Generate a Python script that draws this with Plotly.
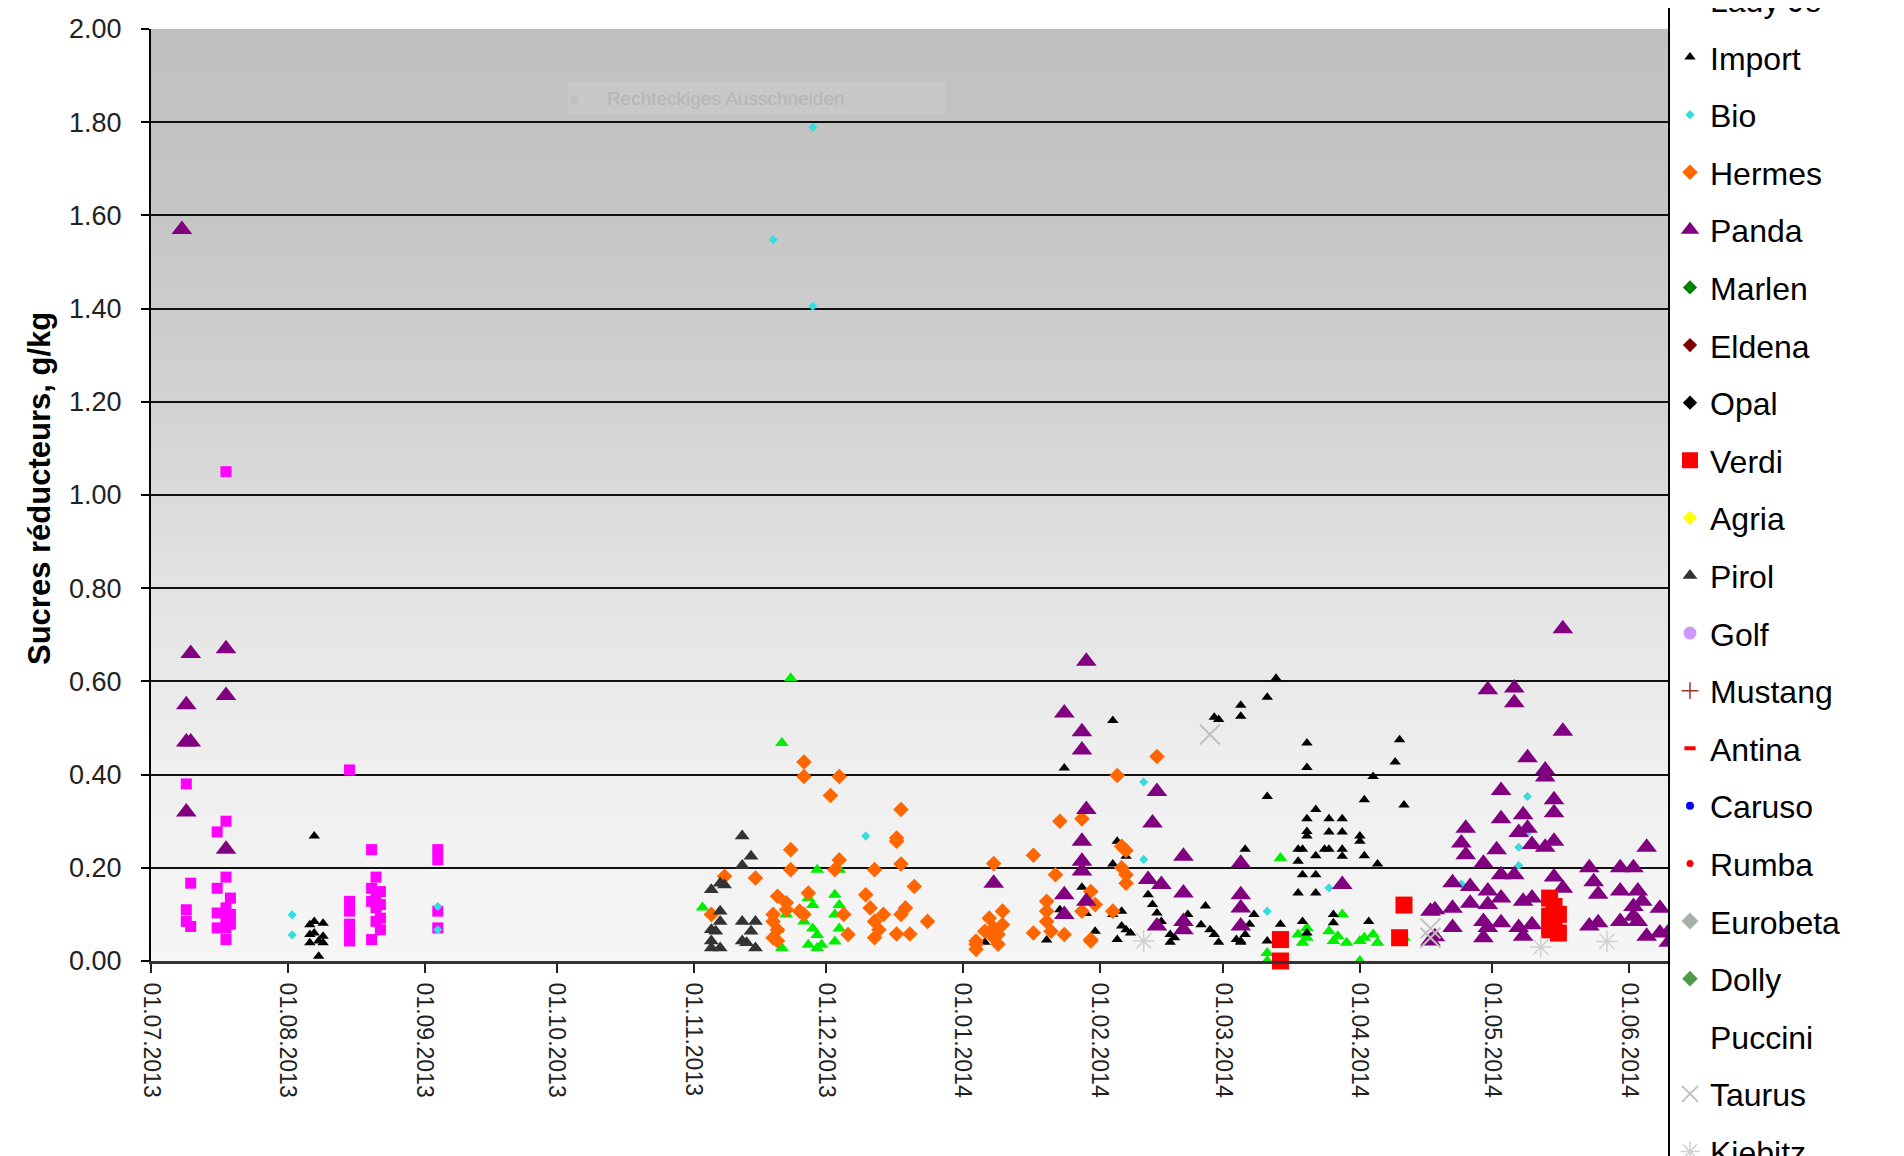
import plotly.graph_objects as go

# ---------------- data ----------------
magenta_dates = ["2013-07-09"] * 3 + ["2013-07-10"] * 2 + ["2013-07-16"] * 4 + ["2013-07-18"] * 7 + \
    ["2013-07-19"] * 3 + ["2013-08-15"] * 6 + ["2013-08-20"] * 4 + ["2013-08-21"] * 4 + \
    ["2013-08-22"] * 4 + ["2013-09-04"] * 4
magenta_vals = [0.38, 0.11, 0.085, 0.167, 0.074, 0.277, 0.156, 0.103, 0.071,
                1.05, 0.30, 0.18, 0.114, 0.093, 0.071, 0.046, 0.135, 0.10, 0.079,
                0.41, 0.128, 0.107, 0.079, 0.061, 0.043, 0.239, 0.156, 0.128, 0.046,
                0.18, 0.142, 0.114, 0.085, 0.149, 0.121, 0.092, 0.067,
                0.239, 0.217, 0.107, 0.071]

green_dates = ["2013-11-03", "2013-11-20", "2013-11-21", "2013-11-21", "2013-11-22", "2013-11-23",
               "2013-11-26", "2013-11-27", "2013-11-27", "2013-11-28", "2013-11-28",
               "2013-11-29", "2013-11-29", "2013-11-29", "2013-11-30",
               "2013-12-03", "2013-12-03", "2013-12-03", "2013-12-04", "2013-12-04", "2013-12-04",
               "2014-03-11", "2014-03-11", "2014-03-14", "2014-03-18", "2014-03-19", "2014-03-20",
               "2014-03-20", "2014-03-25", "2014-03-26", "2014-03-27", "2014-03-28", "2014-03-29",
               "2014-04-01", "2014-04-01", "2014-04-02", "2014-04-04", "2014-04-05", "2014-04-11"]
green_vals = [0.115, 0.067, 0.468, 0.028, 0.10, 0.607, 0.085, 0.135, 0.035, 0.07, 0.12,
              0.196, 0.056, 0.028, 0.035, 0.142, 0.10, 0.042, 0.196, 0.12, 0.07,
              0.017, 0.0, 0.221, 0.057, 0.039, 0.071, 0.05, 0.064, 0.043, 0.053, 0.10, 0.039,
              0.0, 0.043, 0.05, 0.057, 0.039, 0.05]

import_dates = ["2013-08-06"] * 3 + ["2013-08-07"] * 3 + ["2013-08-08"] * 2 + ["2013-08-09"] * 3 + \
    ["2014-01-06", "2014-01-10", "2014-01-20", "2014-01-23", "2014-01-24", "2014-01-28",
     "2014-01-29", "2014-01-31"] + ["2014-02-04"] * 3 + ["2014-02-05"] * 2 + ["2014-02-06"] * 2 + \
    ["2014-02-07"] * 2 + ["2014-02-08", "2014-02-12", "2014-02-13", "2014-02-14", "2014-02-15"] + \
    ["2014-02-17"] * 2 + ["2014-02-18", "2014-02-21", "2014-02-24", "2014-02-25", "2014-02-26"] + \
    ["2014-02-27"] * 2 + ["2014-02-28"] * 2 + ["2014-03-04"] + ["2014-03-05"] * 4 + \
    ["2014-03-06"] * 2 + ["2014-03-07", "2014-03-08"] + ["2014-03-11"] * 3 + \
    ["2014-03-13", "2014-03-14"] + ["2014-03-18"] * 3 + ["2014-03-19"] * 3 + ["2014-03-20"] * 6 + \
    ["2014-03-22"] * 4 + ["2014-03-24"] + ["2014-03-25"] * 3 + ["2014-03-26"] * 2 + \
    ["2014-03-28"] * 4 + ["2014-04-01"] * 2 + ["2014-04-02"] * 2 + \
    ["2014-04-03", "2014-04-04", "2014-04-05", "2014-04-09", "2014-04-10", "2014-04-11"]
import_vals = [0.078, 0.057, 0.039, 0.268, 0.085, 0.06, 0.043, 0.01, 0.081, 0.053, 0.039,
               0.04, 0.081, 0.045, 0.11, 0.414, 0.158, 0.102, 0.064,
               0.516, 0.208, 0.10, 0.257, 0.046, 0.075, 0.107, 0.225, 0.067,
               0.06, 0.142, 0.121, 0.103, 0.085, 0.057, 0.04, 0.05, 0.10, 0.078, 0.118, 0.067,
               0.523, 0.057, 0.518, 0.04, 0.046, 0.549, 0.525, 0.04, 0.043,
               0.24, 0.057, 0.079, 0.10, 0.566, 0.043, 0.353, 0.607, 0.079,
               0.24, 0.214, 0.146, 0.24, 0.185, 0.085, 0.468, 0.415, 0.305, 0.278, 0.268, 0.06,
               0.325, 0.226, 0.185, 0.146, 0.24, 0.305, 0.277, 0.24, 0.10, 0.082,
               0.305, 0.277, 0.24, 0.225, 0.268, 0.257, 0.346, 0.226,
               0.085, 0.396, 0.208, 0.427, 0.475, 0.335]

bio_dates = ["2013-08-02", "2013-08-02", "2013-09-04", "2013-09-04", "2013-11-19",
             "2013-11-28", "2013-11-28", "2013-12-10", "2014-02-11", "2014-02-11",
             "2014-03-11", "2014-03-25", "2014-04-24", "2014-05-07", "2014-05-07",
             "2014-05-09", "2014-05-09"]
bio_vals = [0.099, 0.056, 0.117, 0.067, 1.548, 1.789, 1.405, 0.268, 0.384, 0.218,
            0.107, 0.157, 0.165, 0.244, 0.205, 0.353, 0.275]

hermes_dates = ["2013-11-05", "2013-11-08", "2013-11-15"] + ["2013-11-19"] * 3 + ["2013-11-20"] * 3 + \
    ["2013-11-22"] * 2 + ["2013-11-23"] * 2 + ["2013-11-25"] + ["2013-11-26"] * 3 + \
    ["2013-11-27", "2013-12-02", "2013-12-03"] + ["2013-12-04"] * 2 + \
    ["2013-12-05", "2013-12-06", "2013-12-10", "2013-12-11"] + ["2013-12-12"] * 3 + \
    ["2013-12-13", "2013-12-14"] + ["2013-12-17"] * 3 + ["2013-12-18"] * 3 + \
    ["2013-12-19", "2013-12-20", "2013-12-21", "2013-12-24"] + ["2014-01-04"] * 3 + \
    ["2014-01-06", "2014-01-07"] + ["2014-01-08"] * 3 + ["2014-01-09"] * 2 + ["2014-01-10"] * 2 + \
    ["2014-01-17"] * 2 + ["2014-01-20"] * 3 + ["2014-01-21", "2014-01-22", "2014-01-23", "2014-01-24"] + \
    ["2014-01-28"] * 2 + ["2014-01-30"] * 3 + ["2014-01-31", "2014-02-04", "2014-02-05"] + \
    ["2014-02-06"] * 2 + ["2014-02-07"] * 3 + ["2014-02-14"]
hermes_vals = [0.10, 0.182, 0.178, 0.10, 0.085, 0.05, 0.139, 0.067, 0.043,
               0.11, 0.125, 0.239, 0.196, 0.107, 0.427, 0.396, 0.10,
               0.146, 0.355, 0.196, 0.396, 0.217, 0.10, 0.057, 0.142, 0.114,
               0.196, 0.085, 0.05, 0.067, 0.10, 0.264, 0.257, 0.058, 0.325, 0.208, 0.10,
               0.114, 0.058, 0.16, 0.085, 0.043, 0.036, 0.025, 0.064, 0.092,
               0.209, 0.071, 0.05, 0.036, 0.057, 0.107, 0.078, 0.227, 0.06,
               0.128, 0.107, 0.085, 0.064, 0.185, 0.30, 0.057, 0.305, 0.107,
               0.149, 0.046, 0.043, 0.121, 0.107, 0.398, 0.246, 0.20, 0.237, 0.185, 0.167, 0.439]

panda_dates = ["2013-07-08"] + ["2013-07-09"] * 3 + ["2013-07-10"] * 2 + ["2013-07-18"] * 3 + \
    ["2014-01-08"] + ["2014-01-24"] * 3 + ["2014-01-28"] * 5 + ["2014-01-29"] * 3 + \
    ["2014-02-12", "2014-02-13", "2014-02-14", "2014-02-14", "2014-02-15"] + ["2014-02-20"] * 4 + \
    ["2014-03-05"] * 4 + ["2014-03-28"] + ["2014-04-17"] * 2 + ["2014-04-18"] * 2 + \
    ["2014-04-22"] * 3 + ["2014-04-24"] + ["2014-04-25"] * 2 + ["2014-04-26"] * 2 + \
    ["2014-04-29"] * 3 + ["2014-04-30"] * 4 + ["2014-05-02"] + ["2014-05-03"] * 5 + \
    ["2014-05-06"] * 3 + ["2014-05-07"] * 2 + ["2014-05-08"] * 3 + ["2014-05-09"] * 2 + \
    ["2014-05-10"] * 3 + ["2014-05-13"] * 3 + ["2014-05-15"] * 4 + ["2014-05-17"] * 3 + \
    ["2014-05-23"] * 2 + ["2014-05-24"] + ["2014-05-25"] * 2 + ["2014-05-30"] * 3 + \
    ["2014-06-02"] * 3 + ["2014-06-03"] * 2 + ["2014-06-04"] + ["2014-06-05"] * 2 + \
    ["2014-06-08"] * 2 + ["2014-06-10"] * 2
panda_vals = [1.57, 0.55, 0.47, 0.32, 0.66, 0.47, 0.67, 0.57, 0.24,
              0.167, 0.532, 0.142, 0.10, 0.492, 0.453, 0.257, 0.214, 0.193, 0.643, 0.325, 0.128,
              0.175, 0.296, 0.364, 0.075, 0.164, 0.225, 0.146, 0.085, 0.067,
              0.21, 0.142, 0.114, 0.075, 0.164, 0.107, 0.043, 0.11, 0.052,
              0.168, 0.113, 0.072, 0.253, 0.285, 0.228, 0.16, 0.124,
              0.21, 0.085, 0.05, 0.582, 0.15, 0.121, 0.072, 0.239, 0.366, 0.305, 0.185, 0.135, 0.082,
              0.586, 0.554, 0.185, 0.276, 0.072, 0.314, 0.128, 0.053, 0.436, 0.285,
              0.25, 0.135, 0.078, 0.41, 0.395, 0.244, 0.346, 0.318, 0.257, 0.18, 0.713, 0.493, 0.156,
              0.20, 0.075, 0.17, 0.143, 0.082, 0.20, 0.15, 0.085,
              0.20, 0.117, 0.096, 0.15, 0.085, 0.128, 0.244, 0.053, 0.113, 0.06, 0.063, 0.04]

verdi_dates = ["2014-03-14", "2014-03-14", "2014-04-10", "2014-04-11",
               "2014-05-14", "2014-05-14", "2014-05-14", "2014-05-15", "2014-05-15", "2014-05-16", "2014-05-16"]
verdi_vals = [0.046, 0.0, 0.05, 0.12, 0.135, 0.096, 0.067, 0.117, 0.078, 0.10, 0.06]

pirol_dates = ["2013-11-05"] * 4 + ["2013-11-06"] + ["2013-11-07"] * 4 + ["2013-11-08"] + \
    ["2013-11-12"] * 4 + ["2013-11-13"] + ["2013-11-14"] * 2 + ["2013-11-15"] * 2
pirol_vals = [0.153, 0.067, 0.043, 0.028, 0.064, 0.167, 0.107, 0.085, 0.028, 0.163,
              0.268, 0.205, 0.085, 0.043, 0.039, 0.225, 0.064, 0.085, 0.028]

taurus_dates = ["2014-02-26", "2014-04-17", "2014-04-17"]
taurus_vals = [0.486, 0.07, 0.05]

kiebitz_dates = ["2014-02-11", "2014-05-12", "2014-05-27"]
kiebitz_vals = [0.043, 0.03, 0.042]

# series that only appear in the legend (no visible points)
no_dates = [None]
no_vals = [None]

x_tick_start = "2013-07-01"
x_range = ["2013-07-01", "2014-06-10 07:00"]
y_ticks = [0.0, 0.2, 0.4, 0.6, 0.8, 1.0, 1.2, 1.4, 1.6, 1.8, 2.0]

# background gradient stops (value -> gray level)
bg_stop_vals = [0.0, 0.4, 0.8, 1.2, 1.6, 2.0]
bg_stop_gray = [246, 239, 227, 210, 197, 192]

FONT = "Liberation Sans"

fig = go.Figure()


def add(name, dates, vals, symbol, color, size, show=True, lw=0):
    fig.add_trace(go.Scatter(
        x=dates, y=vals, mode="markers", name=name,
        marker=dict(symbol=symbol, color=color, size=size, line=dict(width=lw, color=color)),
        showlegend=show, legendgroup=name if show else None, cliponaxis=False,
        hovertemplate="%{x|%d.%m.%Y}: %{y:.2f}<extra>" + name + "</extra>"))


# series without a visible legend entry (above the visible part of the legend)
add("", magenta_dates, magenta_vals, "square", "#ff00ff", 11, show=False)
add("", green_dates, green_vals, "triangle-up", "#00ee00", 12, show=False)

add("Lady Jo", no_dates, no_vals, "circle", "#d9d9d9", 8)
add("Import", import_dates, import_vals, "triangle-up", "#000000", 10)
add("Bio", bio_dates, bio_vals, "diamond", "#33dddd", 7)
add("Hermes", hermes_dates, hermes_vals, "diamond", "#ff6600", 12)
add("Panda", panda_dates, panda_vals, "triangle-up", "#800080", 18)
add("Marlen", no_dates, no_vals, "diamond", "#008000", 11)
add("Eldena", no_dates, no_vals, "diamond", "#800000", 11)
add("Opal", no_dates, no_vals, "diamond", "#000000", 11)
add("Verdi", verdi_dates, verdi_vals, "square", "#ff0000", 17)
add("Agria", no_dates, no_vals, "diamond", "#ffff00", 11)
add("Pirol", pirol_dates, pirol_vals, "triangle-up", "#333333", 13)
add("Golf", no_dates, no_vals, "circle", "#cc99ff", 13)
add("Mustang", no_dates, no_vals, "cross-thin-open", "#993333", 12, lw=1.5)
add("Antina", no_dates, no_vals, "line-ew-open", "#ff0000", 8, lw=4)
add("Caruso", no_dates, no_vals, "circle", "#0000ff", 8)
add("Rumba", no_dates, no_vals, "circle", "#ff0000", 7)
add("Eurobeta", no_dates, no_vals, "diamond", "#a6b2a6", 13)
add("Dolly", no_dates, no_vals, "diamond", "#4e9a4e", 12)
add("Puccini", no_dates, no_vals, "circle", "#ffffff", 8)
add("Taurus", taurus_dates, taurus_vals, "x-thin-open", "#c0c0c0", 20, lw=2)
add("Kiebitz", kiebitz_dates, kiebitz_vals, "asterisk-open", "#d0d0d0", 18, lw=1.5)

# gradient background of the plot area
shapes = []
n_bands = 100
for i in range(n_bands):
    v0 = 2.0 * i / n_bands
    v1 = 2.0 * (i + 1) / n_bands
    vm = (v0 + v1) / 2
    for k in range(len(bg_stop_vals) - 1):
        if bg_stop_vals[k] <= vm <= bg_stop_vals[k + 1]:
            t = (vm - bg_stop_vals[k]) / (bg_stop_vals[k + 1] - bg_stop_vals[k])
            g = round(bg_stop_gray[k] + t * (bg_stop_gray[k + 1] - bg_stop_gray[k]))
            break
    shapes.append(dict(type="rect", xref="paper", yref="y", x0=0, x1=1, y0=v0, y1=v1 + 0.001,
                       fillcolor=f"rgb({g},{g},{g})", line=dict(width=0), layer="below"))

W, H = 1904, 1156
L, R, T, B = 143, 242, 21, 203
plot_w = W - L - R
plot_h = H - T - B

# left border of the legend box (the box itself runs past the picture's edges)
shapes.append(dict(type="line", xref="paper", yref="paper", x0=1 - 1.0 / plot_w, x1=1 - 1.0 / plot_w,
                   y0=-0.5, y1=1.2, line=dict(color="black", width=2), layer="above"))

annotations = [
    dict(text="<b>Sucres réducteurs, g/kg</b>", textangle=-90, xref="paper", yref="paper",
         x=(31 - L) / plot_w, y=(H - B - 481) / plot_h, xanchor="center", yanchor="middle",
         showarrow=False, font=dict(family=FONT, size=31, color="black")),
    dict(text="<span style='color:#c0c0c0'>●</span>     Rechteckiges Ausschneiden",
         xref="paper", yref="paper", x=(748 - L) / plot_w, y=(H - B - 90) / plot_h,
         xanchor="center", yanchor="middle", showarrow=False, width=375, height=30, align="left",
         bgcolor="#c8c8c8", bordercolor="#c4c4c4", borderwidth=1,
         font=dict(family=FONT, size=19, color="#b5b5b5")),
]

fig.update_layout(
    width=W, height=H,
    margin=dict(l=L, r=R, t=T, b=B, autoexpand=False),
    paper_bgcolor="white", plot_bgcolor="#f0f0f0",
    font=dict(family=FONT, color="black"),
    shapes=shapes, annotations=annotations,
    showlegend=True,
    legend=dict(x=1.0, xanchor="left", y=1.061, yanchor="top", bgcolor="white",
                borderwidth=0, traceorder="grouped",
                tracegroupgap=13, maxheight=3000,
                font=dict(family=FONT, size=32, color="black")),
    xaxis=dict(type="date", range=x_range, tick0=x_tick_start, dtick="M1", tickformat="%d.%m.%Y",
               tickangle=90, ticks="outside", ticklen=9, tickwidth=2, tickcolor="#222",
               showline=True, linecolor="#333333", linewidth=3, showgrid=False, zeroline=False,
               ticklabelstandoff=5, tickfont=dict(family=FONT, size=23, color="#222")),
    yaxis=dict(range=[0, 2], tickvals=y_ticks, tickformat=".2f", ticks="outside", ticklen=8,
               tickwidth=2, tickcolor="black", showline=True, linecolor="black", linewidth=2,
               showgrid=True, gridcolor="#111111", gridwidth=2, zeroline=False,
               ticklabelstandoff=14, tickfont=dict(family=FONT, size=27, color="#222")),
)

fig.write_html("out.html")
